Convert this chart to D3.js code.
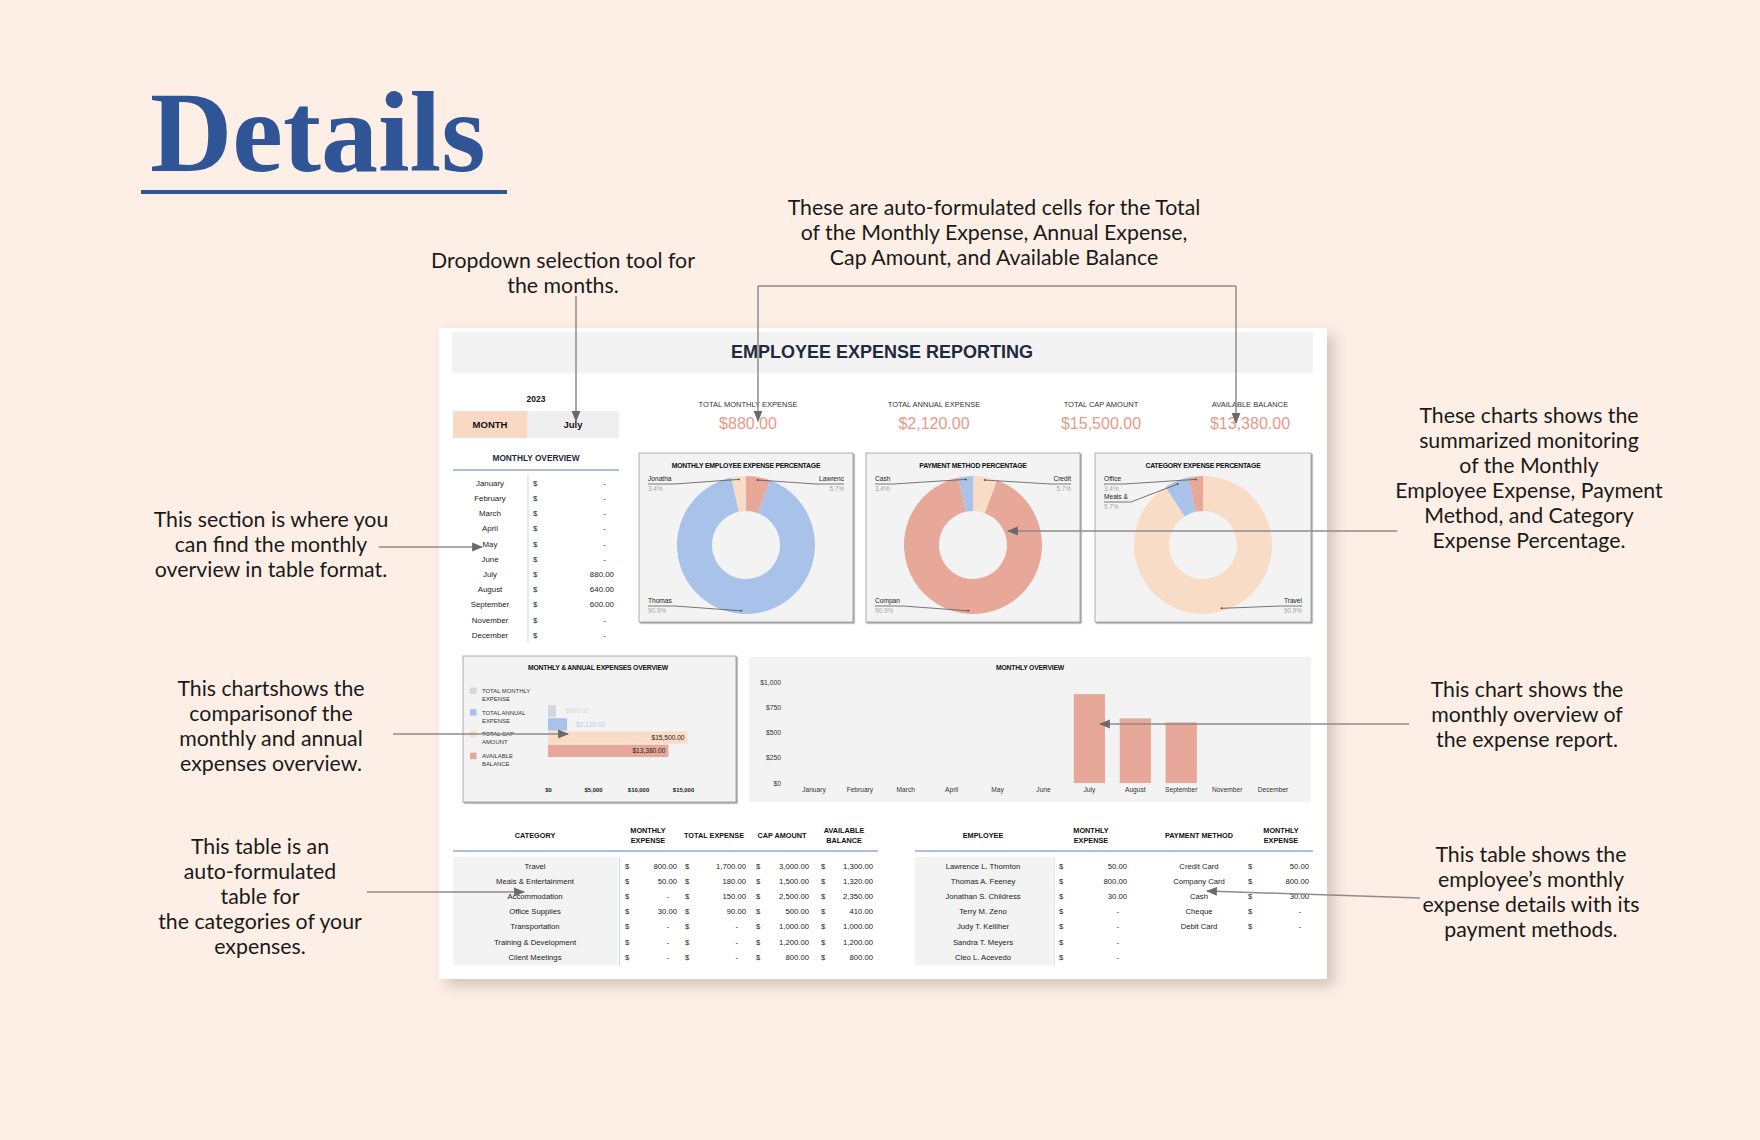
<!DOCTYPE html>
<html><head><meta charset="utf-8">
<script src="https://cdn.jsdelivr.net/npm/d3@7"></script>
<style>
html,body{margin:0;padding:0;background:#fdefe5;}
svg{display:block;}
</style></head><body>
<svg id="c" width="1760" height="1140"></svg>
<script>
// ---------------- DATA ----------------
const months = ["January","February","March","April","May","June","July","August","September","November","December"];
const monthlyValues = [0,0,0,0,0,0,880,640,600,0,0];

const kpiLabels = ["TOTAL MONTHLY EXPENSE","TOTAL ANNUAL EXPENSE","TOTAL CAP AMOUNT","AVAILABLE BALANCE"];
const kpiValues = [880,2120,15500,13380];

const categories = ["Travel","Meals & Entertainment","Accommodation","Office Supplies","Transportation","Training & Development","Client Meetings"];
const catMonthly = [800,50,0,30,0,0,0];
const catTotal = [1700,180,150,90,0,0,0];
const catCap = [3000,1500,2500,500,1000,1200,800];
const catAvail = [1300,1320,2350,410,1000,1200,800];

const employees = ["Lawrence L. Thornton","Thomas A. Feeney","Jonathan S. Childress","Terry M. Zeno","Judy T. Kelliher","Sandra T. Meyers","Cleo L. Acevedo"];
const empMonthly = [50,800,30,0,0,0,0];
const payMethods = ["Credit Card","Company Card","Cash","Cheque","Debit Card"];
const payMonthly = [50,800,30,0,0];

const empShort = ["Lawrenc","Thomas","Jonatha"];
const payShort = ["Credit","Compan","Cash"];
const catShort = ["Travel","Meals &","Office"];

const yTicks = [0,250,500,750,1000];
const xTicksAnnual = [0,5000,10000,15000];

const year = "2023";
const selectedMonth = "July";

const notes = [
  {lines:["Dropdown selection tool for","the months."], x:563, y:261},
  {lines:["These are auto-formulated cells for the Total","of the Monthly Expense, Annual Expense,","Cap Amount, and Available Balance"], x:994, y:208},
  {lines:["These charts shows the","summarized monitoring","of the  Monthly","Employee Expense, Payment","Method, and Category","Expense Percentage."], x:1529, y:416},
  {lines:["This chart shows the","monthly overview of","the expense report."], x:1527, y:690},
  {lines:["This table shows the","employee\u2019s monthly","expense details with its","payment methods."], x:1531, y:855},
  {lines:["This section is where you","can find the monthly","overview in table format."], x:271, y:520},
  {lines:["This chartshows the","comparisonof the","monthly and annual","expenses overview."], x:271, y:689},
  {lines:["This table is an","auto-formulated","table for","the categories of your","expenses."], x:260, y:847}
];

// ---------------- STYLE ----------------
const SANS = "'Liberation Sans', Arial, sans-serif";
const C = {bg:"#fdefe5", salmon:"#e7a89a", blue:"#a9c2ea", peach:"#f9dcc6", gray:"#d3d6de",
  kpi:"#e8998a", navy:"#1f2940", panel:"#f3f3f3", line:"#a9bfe6"};

const svg = d3.select("#c");
const defs = svg.append("defs");
const f = defs.append("filter").attr("id","sh").attr("x","-10%").attr("y","-10%").attr("width","130%").attr("height","130%");
f.append("feDropShadow").attr("dx",7).attr("dy",7).attr("stdDeviation",7).attr("flood-color","#6b5040").attr("flood-opacity",0.28);
const pf = defs.append("filter").attr("id","psh").attr("x","-5%").attr("y","-5%").attr("width","115%").attr("height","115%");
pf.append("feDropShadow").attr("dx",1.2).attr("dy",1.2).attr("stdDeviation",0.6).attr("flood-color","#000").attr("flood-opacity",0.45);
defs.append("marker").attr("id","arr").attr("viewBox","0 0 10 10").attr("refX",9).attr("refY",5)
  .attr("markerWidth",11).attr("markerHeight",11).attr("markerUnits","userSpaceOnUse").attr("orient","auto")
  .append("path").attr("d","M0,1 L10,5 L0,9 Z").attr("fill","#6a6a6a");

svg.append("rect").attr("width",1760).attr("height",1140).attr("fill",C.bg);

// Title
svg.append("text").attr("x",150).attr("y",171).text("Details")
  .attr("font-family","'Liberation Serif', 'DejaVu Serif', serif").attr("font-weight","bold")
  .attr("font-size",114).attr("fill","#2f5597");
svg.append("rect").attr("x",141).attr("y",190).attr("width",366).attr("height",4).attr("fill","#2f5597");

// Card
svg.append("rect").attr("x",439).attr("y",328).attr("width",888).attr("height",651).attr("fill","#fff").attr("filter","url(#sh)");
svg.append("rect").attr("x",452).attr("y",332).attr("width",861).attr("height",41).attr("fill",C.panel);
function txt(g,x,y,s,o){
  o=o||{};
  return g.append("text").attr("x",x).attr("y",y).attr("dy","0.35em").text(s)
    .attr("font-family",o.family||SANS).attr("font-size",o.size||8)
    .attr("font-weight",o.bold?"bold":"normal").attr("fill",o.fill||"#222")
    .attr("text-anchor",o.anchor||"middle").attr("letter-spacing",o.ls||0);
}
txt(svg,882,352,"EMPLOYEE EXPENSE REPORTING",{size:18,bold:true,fill:C.navy});

// Month selector
txt(svg,536,399,year,{size:8.5,bold:true,fill:"#111"});
svg.append("rect").attr("x",453).attr("y",411).attr("width",74).attr("height",27).attr("fill","#f9d9c3");
svg.append("rect").attr("x",527).attr("y",411).attr("width",92).attr("height",27).attr("fill","#efefef");
txt(svg,490,424.5,"MONTH",{size:9.5,bold:true,fill:"#111"});
txt(svg,573,424.5,selectedMonth,{size:9.5,bold:true,fill:"#111"});

// Monthly overview table
txt(svg,536,458,"MONTHLY OVERVIEW",{size:8.3,bold:true,fill:C.navy});
svg.append("line").attr("x1",453).attr("x2",619).attr("y1",470).attr("y2",470).attr("stroke",C.line).attr("stroke-width",2);
svg.append("line").attr("x1",528).attr("x2",528).attr("y1",475).attr("y2",643).attr("stroke","#c6d4f0").attr("stroke-width",1);
const fmt2 = d3.format(",.2f");
function money(g,xd,xr,y,v,size){
  txt(g,xd,y,"$",{size:size,anchor:"start",fill:"#222"});
  if(v>0) txt(g,xr,y,fmt2(v),{size:size,anchor:"end",fill:"#222"});
  else txt(g,xr-8,y,"-",{size:size,anchor:"end",fill:"#222"});
}
const mt = svg.append("g");
months.forEach((m,i)=>{
  const y = 483 + i*15.2;
  txt(mt,490,y,m,{size:7.9,fill:"#222"});
  money(mt,533,614,y,monthlyValues[i],7.9);
});

// KPIs
const kx = [748,934,1101,1250];
kpiLabels.forEach((l,i)=>{
  txt(svg,kx[i],404,l,{size:7.5,fill:"#333"});
  txt(svg,kx[i],423,"$"+fmt2(kpiValues[i]),{size:16,fill:C.kpi});
});

// Donut panels
const panels = [
  {x:639,w:214,title:"MONTHLY EMPLOYEE EXPENSE PERCENTAGE", names:empShort, vals:empMonthly.filter(v=>v>0),
    colors:[C.salmon,C.blue,C.peach], spec:[{s:"R",r:0},{s:"L",r:2},{s:"L",r:0}]},
  {x:866,w:214,title:"PAYMENT METHOD PERCENTAGE", names:payShort, vals:payMonthly.filter(v=>v>0),
    colors:[C.peach,C.salmon,C.blue], spec:[{s:"R",r:0},{s:"L",r:2},{s:"L",r:0}]},
  {x:1095,w:216,title:"CATEGORY EXPENSE PERCENTAGE", names:catShort, vals:catMonthly.filter(v=>v>0),
    colors:[C.peach,C.blue,C.salmon], spec:[{s:"R",r:2},{s:"L",r:1},{s:"L",r:0}]}
];
const py=453, ph=169;
const pie = d3.pie().sort(null).value(d=>d);
const arc = d3.arc().innerRadius(34).outerRadius(69);
const pctF = d3.format(".1%");
panels.forEach(p=>{
  const g = svg.append("g");
  g.append("rect").attr("x",p.x).attr("y",py).attr("width",p.w).attr("height",ph).attr("fill",C.panel)
    .attr("stroke","#9a9a9a").attr("stroke-width",0.8).attr("filter","url(#psh)");
  txt(g,p.x+p.w/2,py+13,p.title,{size:6.9,bold:true,fill:"#111",ls:-0.25});
  const cx = p.x+p.w/2, cy = 545;
  const arcs = pie(p.vals);
  const total = d3.sum(p.vals);
  g.selectAll("path.sl").data(arcs).join("path").attr("class","sl")
    .attr("transform",`translate(${cx},${cy})`).attr("d",arc).attr("fill",(d,i)=>p.colors[i]);
  arcs.forEach((a,i)=>{
    const sp = p.spec[i];
    const mid = (a.startAngle+a.endAngle)/2;
    const px = cx + Math.sin(mid)*66, pyy = cy - Math.cos(mid)*66;
    const ly = sp.r===2 ? py+148 : py+26 + sp.r*18;
    const lx = sp.s==="L" ? p.x+9 : p.x+p.w-9;
    const t = txt(g,lx,ly,p.names[i],{size:6.6,fill:"#222",anchor:sp.s==="L"?"start":"end"});
    txt(g,lx,ly+10,pctF(a.value/total),{size:6.4,fill:"#a5a5a5",anchor:sp.s==="L"?"start":"end"});
    const tw = t.node().getComputedTextLength();
    const ux = sp.s==="L" ? lx+tw+3 : lx-tw-3;
    g.append("polyline").attr("points",[[lx,ly+5],[ux,ly+5],[px,pyy]].map(q=>q.join(",")).join(" "))
      .attr("fill","none").attr("stroke","#555").attr("stroke-width",0.8);
    g.append("circle").attr("cx",px).attr("cy",pyy).attr("r",1).attr("fill","#555");
  });
});

// Monthly & annual expenses overview
const ag = svg.append("g");
ag.append("rect").attr("x",463).attr("y",656).attr("width",273).attr("height",146).attr("fill",C.panel)
  .attr("stroke","#9a9a9a").attr("stroke-width",0.8).attr("filter","url(#psh)");
txt(ag,598,668,"MONTHLY & ANNUAL EXPENSES OVERVIEW",{size:6.8,bold:true,fill:"#111",ls:-0.2});
const annColors = [C.gray,C.blue,C.peach,C.salmon];
kpiLabels.forEach((l,i)=>{
  const y0 = 691 + i*21.7;
  const cut = l.lastIndexOf(" ");
  ag.append("rect").attr("x",470).attr("y",y0-3.5).attr("width",6.5).attr("height",6.5).attr("fill",annColors[i]);
  txt(ag,482,y0,l.slice(0,cut),{size:5.9,anchor:"start",fill:"#333"});
  txt(ag,482,y0+8,l.slice(cut+1),{size:5.9,anchor:"start",fill:"#333"});
});
const xa = d3.scaleLinear().domain([0,15000]).range([548,683]);
const ya = d3.scaleBand().domain(kpiLabels).range([705,757]).paddingInner(0.07);
ag.selectAll("rect.b").data(kpiValues).join("rect").attr("class","b")
  .attr("x",xa(0)).attr("y",(d,i)=>ya(kpiLabels[i])).attr("width",d=>xa(d)-xa(0)).attr("height",ya.bandwidth())
  .attr("fill",(d,i)=>annColors[i]);
const lblFill = ["#d9d9d9","#b7cbef","#222","#222"];
kpiValues.forEach((v,i)=>{
  const y = ya(kpiLabels[i])+ya.bandwidth()/2;
  const inside = i>=2;
  txt(ag, inside? xa(v)-3 : xa(v)+9, y, "$"+fmt2(v), {size:6.6, anchor: inside?"end":"start", fill:lblFill[i]});
});
const axA = ag.append("g").attr("transform","translate(0,788)")
  .call(d3.axisBottom(xa).tickValues(xTicksAnnual).tickSize(0).tickPadding(0).tickFormat(d=>"$"+d3.format(",")(d)));
axA.select(".domain").remove();
axA.selectAll("text").attr("font-family",SANS).attr("font-size",5.9).attr("font-weight","bold").attr("fill","#222");

// Monthly overview bar chart
const mg = svg.append("g");
mg.append("rect").attr("x",749).attr("y",657).attr("width",562).attr("height",145).attr("fill",C.panel);
txt(mg,1030,668,"MONTHLY OVERVIEW",{size:6.8,bold:true,fill:"#111",ls:-0.2});
const xm = d3.scaleBand().domain(months).range([791,1296]).paddingInner(0.32).paddingOuter(0.16);
const ym = d3.scaleLinear().domain([0,1000]).range([783,682]);
mg.selectAll("rect.m").data(monthlyValues).join("rect").attr("class","m")
  .attr("x",(d,i)=>xm(months[i])).attr("y",d=>ym(d)).attr("width",xm.bandwidth()).attr("height",d=>ym(0)-ym(d))
  .attr("fill",C.salmon);
const ayM = mg.append("g").attr("transform","translate(781,0)")
  .call(d3.axisLeft(ym).tickValues(yTicks).tickSize(0).tickPadding(0).tickFormat(d=>"$"+d3.format(",")(d)));
ayM.select(".domain").remove();
ayM.selectAll("text").attr("font-family",SANS).attr("font-size",6.8).attr("fill","#333");
const axM = mg.append("g").attr("transform","translate(0,787)")
  .call(d3.axisBottom(xm).tickSize(0).tickPadding(0));
axM.select(".domain").remove();
axM.selectAll("text").attr("font-family",SANS).attr("font-size",6.6).attr("fill","#333");

// Category table
const tg = svg.append("g");
function head(g,x,lines){
  if(lines.length===1) txt(g,x,835,lines[0],{size:7.3,bold:true,fill:"#111"});
  else { txt(g,x,830,lines[0],{size:7.3,bold:true,fill:"#111"}); txt(g,x,840,lines[1],{size:7.3,bold:true,fill:"#111"}); }
}
head(tg,535,["CATEGORY"]); head(tg,648,["MONTHLY","EXPENSE"]); head(tg,714,["TOTAL EXPENSE"]);
head(tg,782,["CAP AMOUNT"]); head(tg,844,["AVAILABLE","BALANCE"]);
tg.append("line").attr("x1",453).attr("x2",878).attr("y1",851).attr("y2",851).attr("stroke",C.line).attr("stroke-width",2);
tg.append("rect").attr("x",453).attr("y",857).attr("width",165).attr("height",108).attr("fill",C.panel);
tg.append("line").attr("x1",619.5).attr("x2",619.5).attr("y1",857).attr("y2",965).attr("stroke","#c6d4f0");
categories.forEach((c,i)=>{
  const y = 866 + i*15.2;
  txt(tg,535,y,c,{size:7.7,fill:"#222"});
  money(tg,625,677,y,catMonthly[i],7.7);
  money(tg,685,746,y,catTotal[i],7.7);
  money(tg,756,809,y,catCap[i],7.7);
  money(tg,821,873,y,catAvail[i],7.7);
});

// Employee table
const eg = svg.append("g");
head(eg,983,["EMPLOYEE"]); head(eg,1091,["MONTHLY","EXPENSE"]); head(eg,1199,["PAYMENT METHOD"]); head(eg,1281,["MONTHLY","EXPENSE"]);
eg.append("line").attr("x1",915).attr("x2",1313).attr("y1",851).attr("y2",851).attr("stroke",C.line).attr("stroke-width",2);
eg.append("rect").attr("x",915).attr("y",857).attr("width",137).attr("height",108).attr("fill",C.panel);
eg.append("line").attr("x1",1054).attr("x2",1054).attr("y1",857).attr("y2",965).attr("stroke","#c6d4f0");
employees.forEach((e,i)=>{
  const y = 866 + i*15.2;
  txt(eg,983,y,e,{size:7.7,fill:"#222"});
  money(eg,1059,1127,y,empMonthly[i],7.7);
});
payMethods.forEach((p,i)=>{
  const y = 866 + i*15.2;
  txt(eg,1199,y,p,{size:7.7,fill:"#222"});
  money(eg,1248,1309,y,payMonthly[i],7.7);
});

// Annotations
const ng = svg.append("g");
notes.forEach(n=>{
  n.lines.forEach((l,i)=>{
    txt(ng,n.x,n.y+i*25,l,{family:"Lato, 'Open Sans', sans-serif",size:21.3,fill:"#1a1a1a"});
  });
});
const L = d3.line();
const leaders = [
  {pts:[[576,296],[576,421]],arrow:true},
  {pts:[[758,286],[1236,286]],arrow:false},
  {pts:[[758,286],[758,421]],arrow:true},
  {pts:[[1236,286],[1236,423]],arrow:true},
  {pts:[[1397,531],[1008,531]],arrow:true},
  {pts:[[1409,724],[1100,724]],arrow:true},
  {pts:[[1420,898],[1207,891]],arrow:true},
  {pts:[[379,547],[482,547]],arrow:true},
  {pts:[[393,734],[568,734]],arrow:true},
  {pts:[[367,892],[524,892]],arrow:true}
];
leaders.forEach(a=>{
  ng.append("path").attr("d",L(a.pts)).attr("fill","none").attr("stroke","#8c8c8c").attr("stroke-width",1.5)
    .attr("marker-end",a.arrow?"url(#arr)":null);
});
</script>
</body></html>
